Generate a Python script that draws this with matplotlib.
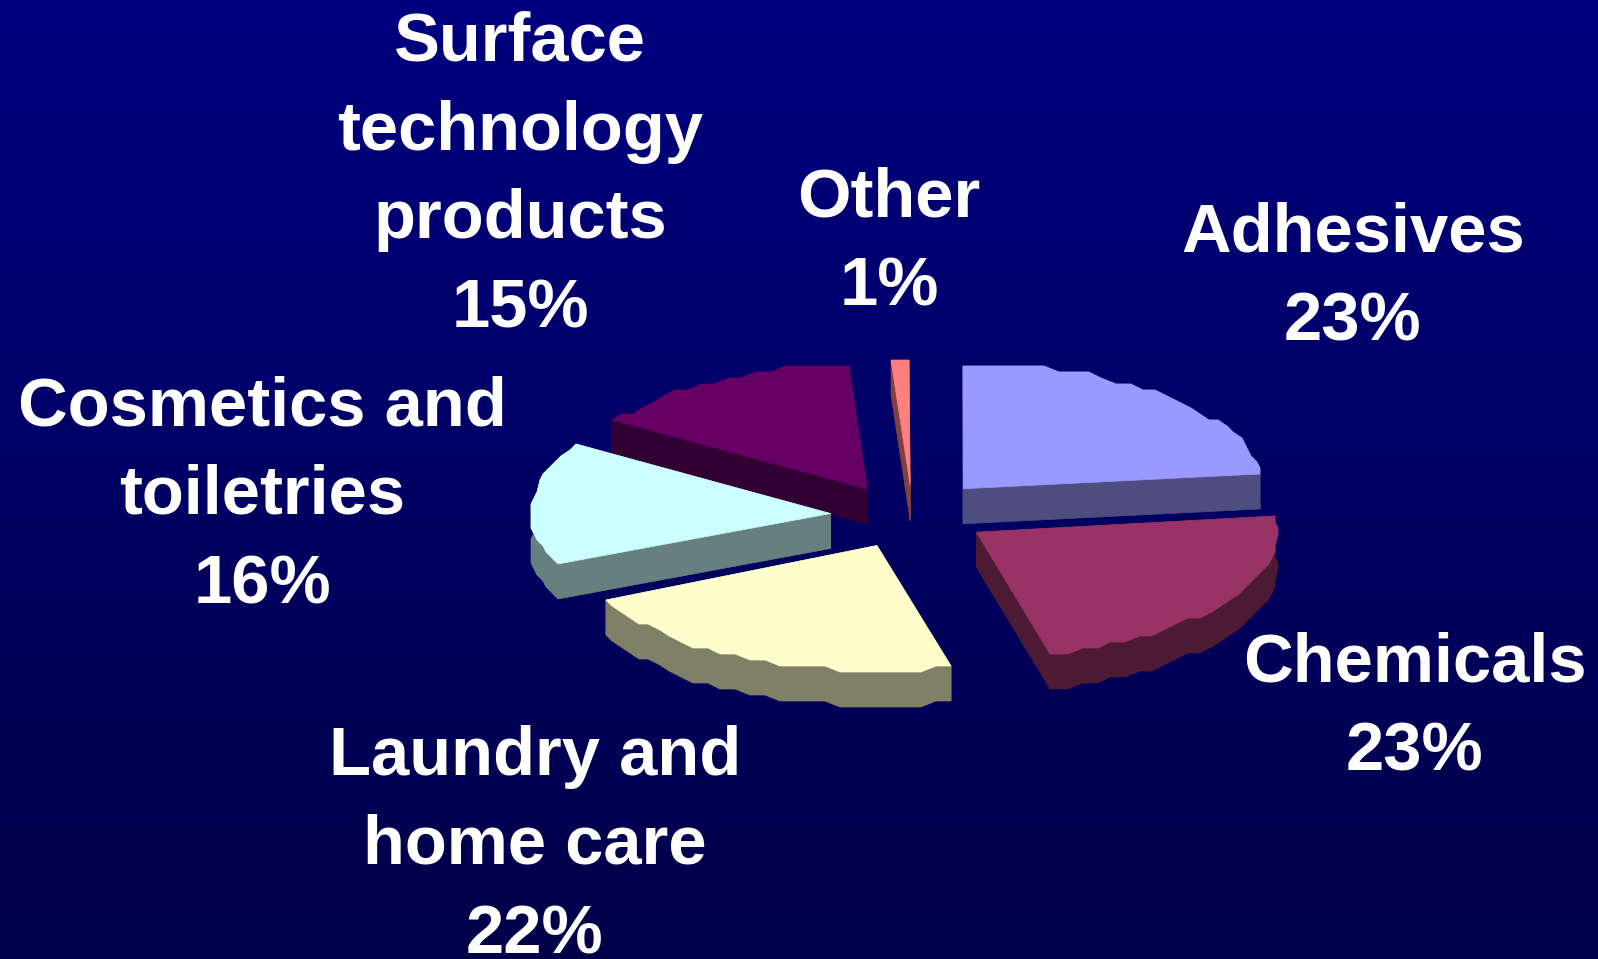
"""
Exploded 3D style pie of sales split by business sector
"""

import matplotlib.pyplot as plt
import numpy as np

# * Chart data
SECTORS = [
    "Adhesives",
    "Chemicals",
    "Laundry and\nhome care",
    "Cosmetics and\ntoiletries",
    "Surface\ntechnology\nproducts",
    "Other",
]
SHARES = [23, 23, 22, 16, 15, 1]

# * Styles
TOP_COLORS = ["#9999ff", "#993366", "#ffffcc", "#ccffff", "#660066", "#ff8080"]
SIDE_COLORS = ["#4d4d80", "#4d1a33", "#808066", "#668080", "#330033", "#804040"]
DRAW_ORDER = [4, 5, 0, 3, 1, 2]
LABEL_XY = [(1353, 278), (1415, 708), (535, 846), (262, 496), (520, 176), (889, 243)]
WEDGE_NUDGE = [(0, 0), (0, 0), (0, 2), (-1, 2), (-3, 4), (2, 5)]

# * Layout, in figure pixels
WIDTH, HEIGHT = 1598, 959
CENTER_X, CENTER_Y = 910.7, 513.6
RADIUS_X, RADIUS_Y = 300.6, 125.3
EXPLODE = 0.264
DEPTH = 35
STEP_X, STEP_Y = 3, 6


def wedge_outline(
    start: float, stop: float, nudge: tuple[int, int]
) -> tuple[np.ndarray, np.ndarray]:
    """Outline of one exploded wedge, angles in degrees clockwise from the top"""
    mid = np.radians((start + stop) / 2)
    apex_x = CENTER_X + EXPLODE * RADIUS_X * np.sin(mid) + nudge[0]
    apex_y = CENTER_Y - EXPLODE * RADIUS_Y * np.cos(mid) + nudge[1]
    ## The rim is snapped to a coarse grid, which gives the stepped edge
    angles = np.radians(np.linspace(start, stop, max(2, int((stop - start) / 3) + 1)))
    rim_x = np.round((apex_x + RADIUS_X * np.sin(angles)) / STEP_X) * STEP_X
    rim_y = np.round((apex_y - RADIUS_Y * np.cos(angles)) / STEP_Y) * STEP_Y
    return np.r_[apex_x, rim_x], np.r_[apex_y, rim_y]


def draw_wedge(ax: plt.Axes, x: np.ndarray, y: np.ndarray, top: str, side: str) -> None:
    """Extrude the outline downwards, then put the top face over it"""
    ## Rim wall as one polygon so no seams show between the steps
    ax.fill(
        np.r_[x[1:], x[:0:-1]],
        np.r_[y[1:], y[:0:-1] + DEPTH],
        color=side,
        lw=0.5,
    )
    for i in (1, len(x) - 1):
        ax.fill(
            [x[0], x[i], x[i], x[0]],
            [y[0], y[i], y[i] + DEPTH, y[0] + DEPTH],
            color=side,
            lw=0.5,
        )
    ax.fill(x, y, color=top, lw=0.5)


def main() -> None:
    """Run script"""
    fig = plt.figure(figsize=(WIDTH / 100, HEIGHT / 100), dpi=100)
    ax = fig.add_axes([0, 0, 1, 1])

    # * Background fades from navy to a darker navy
    shade = np.linspace(128, 72, 256).reshape(-1, 1)
    rgb = np.dstack([np.zeros_like(shade), np.zeros_like(shade), shade]) / 255
    ax.imshow(rgb, extent=(0, WIDTH, HEIGHT, 0), aspect="auto", zorder=0)

    edges = np.cumsum([0] + SHARES) / sum(SHARES) * 360
    for i in DRAW_ORDER:
        x, y = wedge_outline(edges[i], edges[i + 1], WEDGE_NUDGE[i])
        draw_wedge(ax, x, y, TOP_COLORS[i], SIDE_COLORS[i])

    for name, share, (x, y) in zip(SECTORS, SHARES, LABEL_XY):
        ax.text(
            x,
            y,
            f"{name}\n{share}%",
            color="white",
            family="Liberation Sans",
            weight="bold",
            fontsize=49.5,
            ha="center",
            va="center",
            linespacing=1.5,
            multialignment="center",
        )

    ax.set_xlim(0, WIDTH)
    ax.set_ylim(HEIGHT, 0)
    ax.axis("off")
    fig.savefig("out.png", dpi=100)


if __name__ == "__main__":
    main()
